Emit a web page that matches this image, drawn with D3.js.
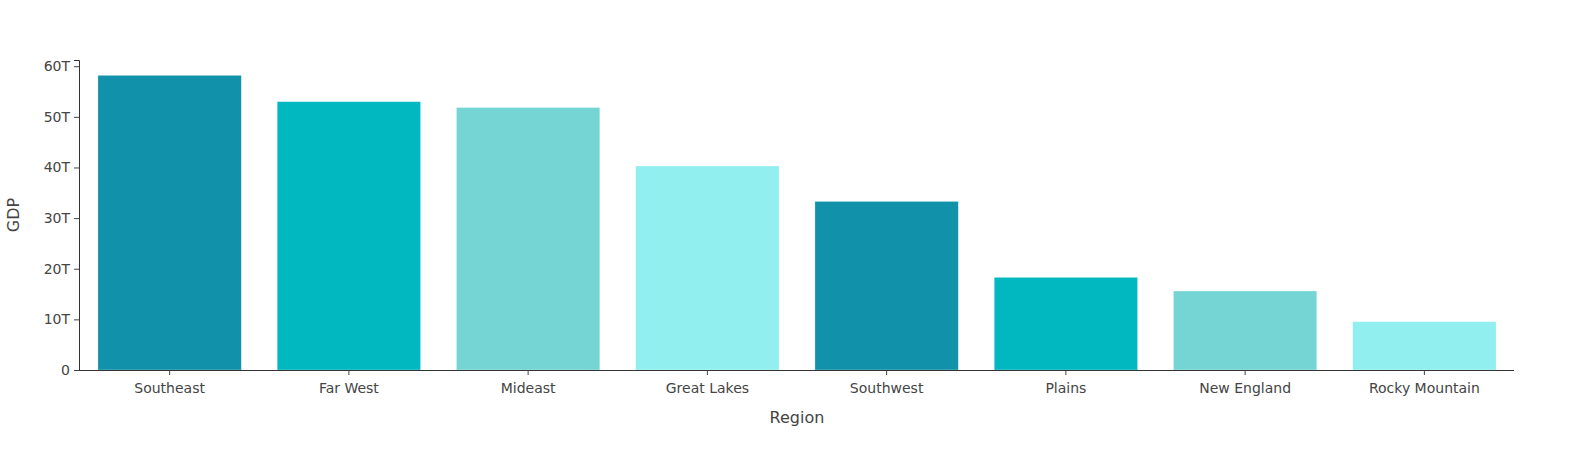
<!DOCTYPE html>
<html>
<head>
<meta charset="utf-8">
<script src="https://cdn.jsdelivr.net/npm/d3@7"></script>
<style>
  html, body { margin: 0; padding: 0; background: #fff; }
  svg { display: block; font-family: "DejaVu Sans", Verdana, sans-serif; }
</style>
</head>
<body>
<svg id="chart" width="1594" height="450"></svg>
<script>
const regions = ["Southeast", "Far West", "Mideast", "Great Lakes", "Southwest", "Plains", "New England", "Rocky Mountain"];
const gdp = [58.2e12, 53.0e12, 51.85e12, 40.3e12, 33.3e12, 18.3e12, 15.6e12, 9.55e12];
const barColors = ["#1292aa", "#02b8c0", "#75d5d4", "#91f0ef"];
const yTicks = [0, 10e12, 20e12, 30e12, 40e12, 50e12, 60e12];
const yTickLabels = ["0", "10T", "20T", "30T", "40T", "50T", "60T"];
const xTitle = "Region";
const yTitle = "GDP";

const margin = { left: 80, right: 80, top: 60, bottom: 80 };
const W = 1594, H = 450;
const svg = d3.select("#chart");

const x = d3.scaleBand().domain(regions).range([margin.left, W - margin.right]).paddingInner(0.2).paddingOuter(0.1);
const y = d3.scaleLinear().domain([0, d3.max(gdp) * 1.052]).range([H - margin.bottom, margin.top]);

svg.append("g").selectAll("rect").data(regions).join("rect")
  .attr("x", d => x(d))
  .attr("width", x.bandwidth())
  .attr("y", (d, i) => y(gdp[i]))
  .attr("height", (d, i) => y(0) - y(gdp[i]))
  .attr("fill", (d, i) => barColors[i % barColors.length])
  .attr("stroke", "#ffffff")
  .attr("stroke-opacity", 0.6)
  .attr("stroke-width", 0.5);

const xAxis = svg.append("g")
  .attr("transform", `translate(0,${H - margin.bottom})`)
  .call(d3.axisBottom(x).tickSizeOuter(0).tickSize(5).tickPadding(8));
xAxis.select(".domain").attr("stroke", "#333").attr("d", `M${margin.left - 1},0.5H${W - margin.right}`);
xAxis.selectAll(".tick line").attr("stroke", "#444");
xAxis.selectAll(".tick text").attr("fill", "#444").attr("font-size", 14).attr("font-family", "DejaVu Sans, Verdana, sans-serif");

const yAxis = svg.append("g")
  .attr("transform", `translate(${margin.left - 1},0)`)
  .call(d3.axisLeft(y).tickValues(yTicks).tickFormat((d, i) => yTickLabels[i]).tickSizeOuter(0).tickSize(5).tickPadding(4));
yAxis.select(".domain").attr("stroke", "#333");
yAxis.selectAll(".tick line").attr("stroke", "#444");
yAxis.selectAll(".tick text").attr("fill", "#444").attr("font-size", 14).attr("font-family", "DejaVu Sans, Verdana, sans-serif");

svg.append("text")
  .attr("x", (margin.left + W - margin.right) / 2)
  .attr("y", 423)
  .attr("text-anchor", "middle")
  .attr("fill", "#444")
  .attr("font-size", 16)
  .text(xTitle);

svg.append("text")
  .attr("transform", `translate(19,${(margin.top + H - margin.bottom) / 2}) rotate(-90)`)
  .attr("text-anchor", "middle")
  .attr("fill", "#444")
  .attr("font-size", 16)
  .text(yTitle);
</script>
</body>
</html>
